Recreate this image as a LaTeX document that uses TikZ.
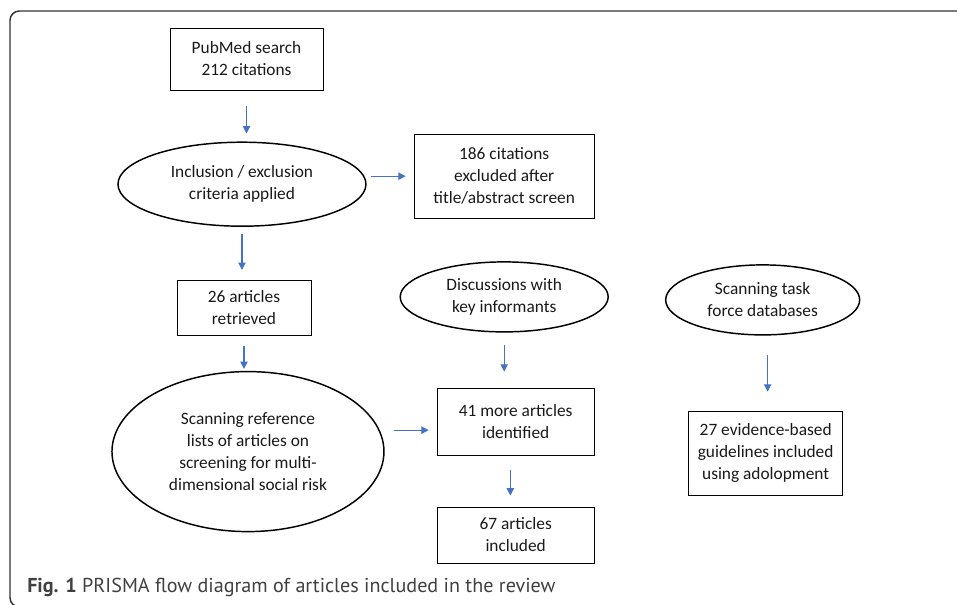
\documentclass[tikz,border=0pt]{standalone}
\usepackage{fontspec}
\setmainfont{Carlito}
\newfontfamily\capfont{PT Sans}
\usetikzlibrary{
  positioning,
  shapes.geometric,
  arrows.meta
}
\definecolor{flowblue}{HTML}{4472C4}
\definecolor{capgray}{HTML}{404040}

\begin{document}
\begin{tikzpicture}[
  x=0.75pt, y=-0.75pt,
  every node/.style={font=\fontsize{13}{16.5}\selectfont, text=black!90},
  box/.style={draw, rectangle, line width=0.7pt, align=center, inner sep=1pt},
  oval/.style={draw, ellipse, line width=1.1pt, align=center, inner sep=1pt},
  arrow/.style={draw=flowblue, line width=0.9pt, -{Triangle[length=5.5pt, width=5.5pt]}},
  frame/.style={draw=black!80, line width=1.1pt, rounded corners=7pt},
  caption/.style={anchor=west, inner sep=0pt, text=capgray, font=\capfont\fontsize{15.1}{18}\selectfont}
]
\useasboundingbox (0,0) rectangle (957,605);

% Frame
\draw[frame] (975,11) -- (10,11) -- (10,607) -- (40,607);

% Nodes
\node[box, minimum width=114.75pt, minimum height=46.5pt] (pubmed) at (246.5,59) {PubMed search\\ 212 citations};
\node[oval, minimum width=186pt, minimum height=63pt, below=38.25pt of pubmed, xshift=-3.4pt] (criteria) {Inclusion / exclusion\\ criteria applied};
\node[box, minimum width=135pt, minimum height=63pt, right=35.25pt of criteria, yshift=6pt] (excluded) {186 citations\\ excluded after\\ title/abstract screen};
\node[box, minimum width=100.5pt, minimum height=41.25pt, below=39.75pt of criteria, xshift=1.5pt] (retrieved) {26 articles\\ retrieved};
\node[oval, minimum width=204pt, minimum height=120pt, below=26.25pt of retrieved, xshift=3pt] (reflists) {Scanning reference\\ lists of articles on\\ screening for multi-\\ dimensional social risk};
\node[box, minimum width=117.75pt, minimum height=50.25pt, right=39pt of reflists, yshift=22.5pt] (identified) {41 more articles\\ identified};
\node[oval, minimum width=156pt, minimum height=52.5pt, above=41.25pt of identified, xshift=-8.6pt] (informants) {Discussions with\\ key informants};
\node[box, minimum width=117.75pt, minimum height=42pt, below=38.25pt of identified] (included) {67 articles\\ included};
\node[oval, minimum width=145.5pt, minimum height=52.5pt, right=42pt of informants, yshift=-2.25pt] (taskforce) {Scanning task\\ force databases};
\node[box, minimum width=115.5pt, minimum height=63pt, below=56.25pt of taskforce, xshift=2.25pt] (guidelines) {27 evidence-based\\ guidelines included\\ using adolopment};

% Caption
\node[caption] (fig) at (27,587) {\textbf{Fig. 1} PRISMA flow diagram of articles included in the review};

% Arrows
\draw[arrow, shorten <=12pt, shorten >=6pt] (pubmed) -- (pubmed.south |- criteria.north);
\draw[arrow, shorten <=3pt, shorten >=6pt] (criteria.east |- excluded.west) -- (excluded.west);
\draw[arrow, shorten <=5.25pt, shorten >=7.5pt] (criteria.south) -- (criteria.south |- retrieved.north);
\draw[arrow, shorten <=7.5pt, shorten >=1.5pt] (retrieved.south) -- (retrieved.south |- reflists.north);
\draw[arrow, shorten <=6.75pt, shorten >=6pt] ([yshift=-6.4pt]identified.west -| reflists.east) -- ([yshift=-6.4pt]identified.west);
\draw[arrow, shorten <=9pt, shorten >=12pt] (informants.south) -- (informants.south |- identified.north);
\draw[arrow, shorten <=10.5pt, shorten >=8.25pt] ([xshift=-4pt]identified.south) -- ([xshift=-4pt]included.north);
\draw[arrow, shorten <=14.25pt, shorten >=14.25pt] ([xshift=3.75pt]taskforce.south) -- ([xshift=3.75pt]taskforce.south |- guidelines.north);

\end{tikzpicture}
\end{document}
